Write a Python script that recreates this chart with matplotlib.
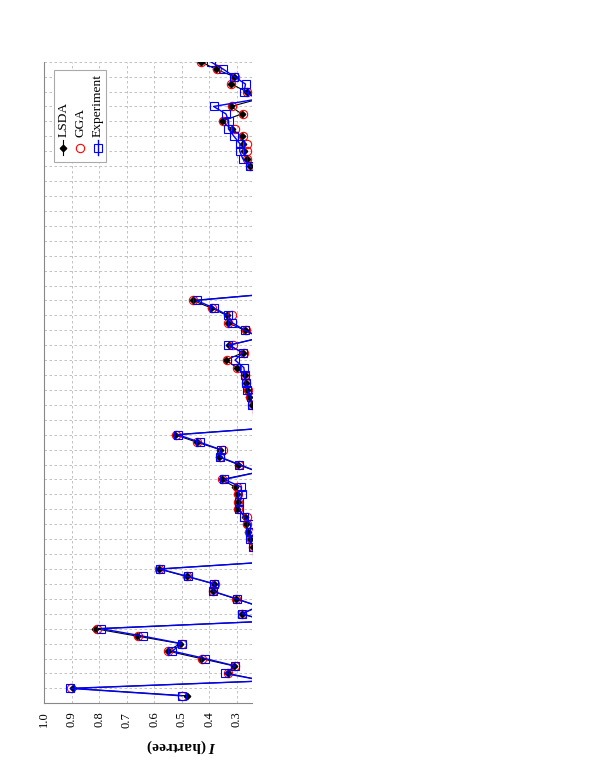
import numpy as np
import matplotlib
matplotlib.use('Agg')
import matplotlib.pyplot as plt
from matplotlib.lines import Line2D
from matplotlib.patches import Rectangle

plt.rcParams['font.family'] = ['Liberation Serif', 'DejaVu Serif']
plt.rcParams['mathtext.fontset'] = 'custom'
plt.rcParams['mathtext.it'] = 'Liberation Serif:italic:bold'
plt.rcParams['mathtext.rm'] = 'Liberation Serif'

# atomic numbers: H..Cs, then Lu..Rn (lanthanides left out)
z_a = np.arange(1, 56)
z_b = np.arange(71, 87)

# first ionization energy, hartree
exp_a = [0.500, 0.904, 0.198, 0.343, 0.305, 0.414, 0.534, 0.500, 0.640, 0.793,
         0.189, 0.281, 0.220, 0.300, 0.385, 0.381, 0.477, 0.579, 0.160, 0.225,
         0.241, 0.251, 0.250, 0.249, 0.273, 0.290, 0.290, 0.281, 0.284, 0.345,
         0.220, 0.290, 0.360, 0.358, 0.434, 0.514, 0.153, 0.209, 0.228, 0.244,
         0.248, 0.261, 0.268, 0.271, 0.274, 0.306, 0.278, 0.330, 0.213, 0.270,
         0.316, 0.331, 0.384, 0.446, 0.143]
exp_b = [0.199, 0.251, 0.278, 0.289, 0.288, 0.310, 0.330, 0.329, 0.339, 0.384,
         0.224, 0.273, 0.268, 0.309, 0.349, 0.395]

lsda_a = [0.479, 0.895, 0.200, 0.331, 0.309, 0.430, 0.551, 0.505, 0.661, 0.815,
          0.189, 0.282, 0.220, 0.303, 0.387, 0.382, 0.482, 0.583, 0.162, 0.225,
          0.240, 0.250, 0.260, 0.2675, 0.2685, 0.298, 0.297, 0.300, 0.306, 0.355,
          0.222, 0.294, 0.364, 0.360, 0.445, 0.524, 0.155, 0.205, 0.225, 0.243,
          0.255, 0.2615, 0.267, 0.270, 0.300, 0.339, 0.278, 0.327, 0.215, 0.270,
          0.333, 0.336, 0.393, 0.460, 0.145]
lsda_b = [0.205, 0.252, 0.264, 0.273, 0.278, 0.282, 0.318, 0.355, 0.282, 0.321,
          0.220, 0.264, 0.321, 0.309, 0.376, 0.431]

gga_a = [0.500, 0.903, 0.205, 0.331, 0.306, 0.427, 0.548, 0.500, 0.657, 0.809,
         0.190, 0.282, 0.220, 0.302, 0.387, 0.379, 0.480, 0.581, 0.160, 0.225,
         0.240, 0.249, 0.257, 0.263, 0.262, 0.296, 0.295, 0.294, 0.300, 0.352,
         0.220, 0.293, 0.362, 0.351, 0.443, 0.520, 0.155, 0.205, 0.225, 0.243,
         0.253, 0.260, 0.266, 0.269, 0.298, 0.334, 0.273, 0.312, 0.213, 0.268,
         0.330, 0.318, 0.391, 0.457, 0.145]
gga_b = [0.203, 0.250, 0.264, 0.264, 0.264, 0.276, 0.306, 0.350, 0.276, 0.318,
         0.220, 0.262, 0.321, 0.306, 0.373, 0.429]

i_ticks = [1.0, 0.9, 0.8, 0.7, 0.6, 0.5, 0.4, 0.3]
labels = ['LSDA', 'GGA', 'Experiment']


def join(a, b):
    return np.concatenate([a, [np.nan], b])


z = join(z_a, z_b)
lsda = join(lsda_a, lsda_b)
gga = join(gga_a, gga_b)
expt = join(exp_a, exp_b)

W, H = 595, 770
fig = plt.figure(figsize=(W / 100, H / 100), dpi=100)


def fx(px):
    return px / W


def fy(py):
    return 1 - py / H


# page is turned: I runs left->right (decreasing), Z runs upward
ax = fig.add_axes([fx(44), fy(703.3), fx(251.7) - fx(44), fy(61.7) - fy(703.3)])

ax.plot(lsda, z, color='black', lw=0.8, marker='D', ms=3.3, mfc='black', mec='black', zorder=3)
ax.plot(gga, z, ls='none', marker='o', ms=6, mfc='none', mec='red', mew=0.8, zorder=4)
ax.plot(expt, z, color='blue', lw=1.0, marker='s', ms=5.2, mfc='none', mec='blue', mew=0.8, zorder=5)

ax.set_xlim(1.0, 0.2455)
ax.set_ylim(0, 86)
ax.set_xticks(i_ticks)
ax.set_xticklabels(['%.1f' % v for v in i_ticks], rotation=90, fontsize=9)
ax.set_yticks(np.arange(2, 87, 2))
ax.set_yticklabels([])
ax.tick_params(axis='both', length=0)
ax.tick_params(axis='x', pad=6)
ax.grid(True, color='#b8b8b8', ls=(0, (3, 3)), lw=0.6)
ax.set_axisbelow(True)
for s in ['top', 'right']:
    ax.spines[s].set_visible(False)
for s in ['left', 'bottom']:
    ax.spines[s].set_color('#888888')
    ax.spines[s].set_linewidth(0.8)

ax.set_xlabel('$I$ (hartree)', rotation=180, fontsize=11, fontweight='bold', va='center')
ax.xaxis.set_label_coords((1.0 - 0.5) / (1.0 - 0.2455), -0.0666)

# legend, drawn turned like the rest of the page
fig.add_artist(Rectangle((fx(54.3), fy(162.3)), fx(105.7) - fx(54.3), fy(70) - fy(162.3),
                         transform=fig.transFigure, facecolor='white', edgecolor='#aaaaaa', lw=0.8))
cols = [63.3, 80.0, 97.7]
styles = [dict(color='black', marker='D', ms=3.3, mfc='black', mec='black', lw=0.8),
          dict(color='red', marker='o', ms=6, mfc='none', mec='red', mew=0.8, ls='none'),
          dict(color='blue', marker='s', ms=5.2, mfc='none', mec='blue', mew=0.8, lw=1.0)]
for cx, lab, st in zip(cols, labels, styles):
    if st.get('ls') != 'none':
        fig.add_artist(Line2D([fx(cx), fx(cx)], [fy(155), fy(140)], transform=fig.transFigure,
                              color=st['color'], lw=st['lw']))
    mk = {k: v for k, v in st.items() if k not in ('lw', 'ls', 'color')}
    fig.add_artist(Line2D([fx(cx)], [fy(147.5)], transform=fig.transFigure, ls='none', **mk))
    fig.text(fx(cx), fy(137), lab, rotation=90, ha='center', va='bottom', fontsize=9.7)

fig.savefig('out.png', dpi=100)
